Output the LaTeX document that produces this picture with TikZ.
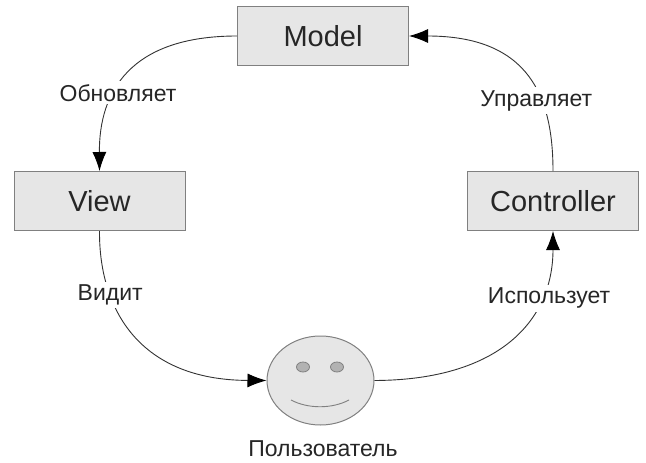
\documentclass[tikz,border=0pt]{standalone}
\usepackage{fontspec}
\setmainfont{Liberation Sans}
\usetikzlibrary{positioning,arrows.meta,shapes.geometric}
\definecolor{boxgray}{HTML}{E6E6E6}
\definecolor{edgegray}{HTML}{808080}
\begin{document}
\begin{tikzpicture}[x=1pt,y=-1pt,
link/.style={-{Latex[length=19pt,width=14pt,color=black]},line width=0.9pt,black!80},
block/.style={rectangle,draw=edgegray,fill=boxgray,line width=1pt,minimum width=171pt,minimum height=59pt,text=black!85,font=\fontsize{29}{32}\selectfont},
tag/.style={fill=white,inner sep=3pt,text=black!85,font=\fontsize{23}{26}\selectfont},
face/.style={ellipse,draw=edgegray,fill=boxgray,line width=1pt,minimum width=107pt,minimum height=89pt},
eye/.style={ellipse,draw=edgegray,fill=black!30,line width=0.8pt,minimum width=13pt,minimum height=10pt,inner sep=0pt}
]
\useasboundingbox (0,0) rectangle (646,463);
\node[block] (M) at (323,36) {Model};
\node[block] (V) at (99.5,201) {View};
\node[block] (C) at (553,201) {Controller};
\node[face] (U) at (320.5,380.5) {};
\node[eye] (E1) at (303,367) {};
\node[eye] (E2) at (337,367) {};
\coordinate (S1) at (291,400);
\coordinate (S2) at (349,400);
\draw[line width=0.9pt,edgegray] (S1) .. controls (308,409) and (332,409) .. (S2);
\node[text=black!85,font=\fontsize{23}{26}\selectfont] (UL) at (323,449) {Пользователь};
\draw[link] (M.west) .. controls (130,36) and (99,92) .. (V.north)
  node[tag,pos=0.62,xshift=3pt] (LU) {Обновляет};
\draw[link] (V.south) .. controls (99,310) and (140,380) .. (U.west)
  node[tag,pos=0.285] (LS) {Видит};
\draw[link] (U.east) .. controls (500,380) and (553,320) .. (C.south)
  node[tag,pos=0.72,xshift=9pt] (LI) {Использует};
\draw[link] (C.north) .. controls (553,98) and (530,36) .. (M.east)
  node[tag,pos=0.35,xshift=-5pt] (LC) {Управляет};
\end{tikzpicture}
\end{document}
